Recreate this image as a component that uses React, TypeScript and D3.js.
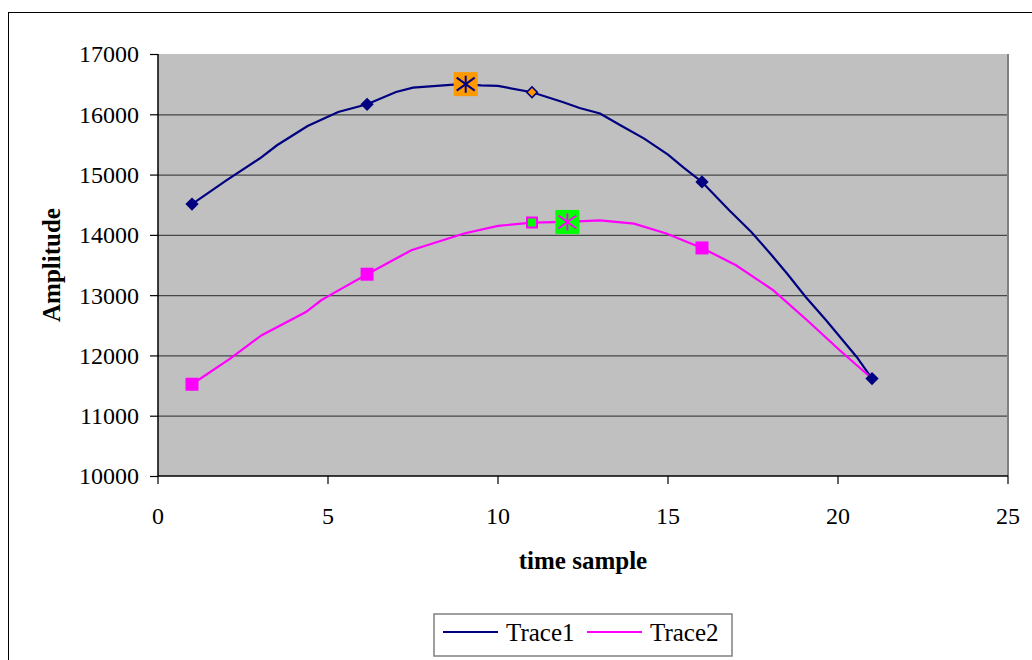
import React from 'react';
import * as d3 from 'd3';

// vertices of each trace (time sample, amplitude)
const trace1X = [1, 2, 3, 3.5, 4.4, 5.3, 6.15, 7, 7.5, 8.7, 9.05, 9.5, 10, 11, 11.9, 12.4, 13, 13.6, 14.3, 15, 15.45, 16, 16.8, 17.45, 18.05, 18.5, 19.05, 19.65, 20.55, 21];
const trace1Y = [14510, 14900, 15270, 15486, 15806, 16038, 16166, 16370, 16443, 16493, 16500, 16480, 16470, 16365, 16204, 16104, 16012, 15818, 15597, 15332, 15120, 14877, 14408, 14048, 13662, 13358, 12970, 12584, 11975, 11617];
const trace2X = [1, 2.1, 3.05, 4.35, 4.8, 5.15, 6.15, 7.45, 9, 10, 11, 12.04, 13, 14, 14.95, 16, 17, 18.1, 19.1, 20.05, 21];
const trace2Y = [11522, 11940, 12335, 12720, 12915, 13030, 13347, 13745, 14022, 14148, 14204, 14214, 14239, 14187, 14022, 13783, 13496, 13080, 12580, 12086, 11617];

const trace1MarkerX = [1, 6.15, 11, 16, 21];
const trace2MarkerX = [1, 6.15, 11, 16];
const peak1 = { x: 9.05, y: 16500 };
const peak2 = { x: 12.04, y: 14214 };
const probeX = 11;

const yTicks = [10000, 11000, 12000, 13000, 14000, 15000, 16000, 17000];
const xTicks = [0, 5, 10, 15, 20, 25];
const seriesNames = ['Trace1', 'Trace2'];

const NAVY = '#000080';
const MAGENTA = '#FF00FF';
const ORANGE = '#FF9900';
const GREEN = '#00FF00';
const FONT = '"Liberation Serif", "Times New Roman", serif';

const pick = (xs: number[], ys: number[], x: number) => ys[xs.indexOf(x)];

const App: React.FC = () => {
	const x = d3.scaleLinear().domain([0, 25]).range([158, 1008]);
	const y = d3.scaleLinear().domain([10000, 17000]).range([476, 54]);

	const line = d3
		.line<[number, number]>()
		.x((d) => x(d[0]))
		.y((d) => y(d[1]));

	const t1 = trace1X.map((v, i) => [v, trace1Y[i]] as [number, number]);
	const t2 = trace2X.map((v, i) => [v, trace2Y[i]] as [number, number]);

	const sq = (area: number) => d3.symbol(d3.symbolSquare, area)() as string;

	// six-armed asterisk
	const star = 'M0,-8.5L0,8.5M-9,-6.5L9,6.5M-9,6.5L9,-6.5';

	return (
		<div style={{ position: 'fixed', left: 0, top: 0, background: '#fff' }}>
			<svg width={1032} height={660} style={{ display: 'block' }} fontFamily={FONT}>
				<rect x={0} y={0} width={1032} height={660} fill='#fff' />
				<rect x={8.5} y={12.5} width={1040} height={700} fill='none' stroke='#000' strokeWidth={1} />

				{/* plot area */}
				<rect x={x(0)} y={y(17000)} width={x(25) - x(0)} height={y(10000) - y(17000)} fill='#C0C0C0' />
				{yTicks.slice(1, -1).map((t) => (
					<line key={t} x1={x(0)} x2={x(25)} y1={y(t) + 0.5} y2={y(t) + 0.5} stroke='#474747' strokeWidth={1.2} />
				))}
				<line x1={x(25)} x2={x(25)} y1={y(17000)} y2={y(10000)} stroke='#808080' strokeWidth={2} />

				{/* axes */}
				<line x1={x(0)} x2={x(0)} y1={y(17000)} y2={y(10000)} stroke='#000' strokeWidth={1.5} />
				<line x1={x(0)} x2={x(25)} y1={y(10000)} y2={y(10000)} stroke='#000' strokeWidth={1.5} />
				{yTicks.map((t) => (
					<g key={t}>
						<line x1={x(0) - 8} x2={x(0)} y1={y(t) + 0.5} y2={y(t) + 0.5} stroke='#000' strokeWidth={1.2} />
						<text x={139} y={y(t)} dy='0.35em' textAnchor='end' fontSize={24}>
							{t}
						</text>
					</g>
				))}
				{xTicks.map((t) => (
					<g key={t}>
						<line x1={x(t)} x2={x(t)} y1={y(10000)} y2={y(10000) + 8} stroke='#000' strokeWidth={1.2} />
						<text x={x(t)} y={524} textAnchor='middle' fontSize={24}>
							{t}
						</text>
					</g>
				))}
				<text x={(x(0) + x(25)) / 2} y={569} textAnchor='middle' fontSize={25} fontWeight='bold'>
					time sample
				</text>
				<text transform={`translate(60,${(y(10000) + y(17000)) / 2}) rotate(-90)`} textAnchor='middle' fontSize={25} fontWeight='bold'>
					Amplitude
				</text>

				{/* traces */}
				<path d={line(t1) as string} fill='none' stroke={NAVY} strokeWidth={2.2} />
				<path d={line(t2) as string} fill='none' stroke={MAGENTA} strokeWidth={2.2} />

				{trace2MarkerX.map((m) =>
					m === probeX ? (
						<path key={'s' + m} d={sq(100)} transform={`translate(${x(m)},${y(pick(trace2X, trace2Y, m))})`} fill={GREEN} stroke={MAGENTA} strokeWidth={2} />
					) : (
						<path key={'s' + m} d={sq(169)} transform={`translate(${x(m)},${y(pick(trace2X, trace2Y, m))})`} fill={MAGENTA} />
					),
				)}
				{trace1MarkerX.map((m) =>
					m === probeX ? (
						<path key={'d' + m} d={sq(56)} transform={`translate(${x(m)},${y(pick(trace1X, trace1Y, m))}) rotate(45)`} fill={ORANGE} stroke={NAVY} strokeWidth={1.6} />
					) : (
						<path key={'d' + m} d={sq(88)} transform={`translate(${x(m)},${y(pick(trace1X, trace1Y, m))}) rotate(45)`} fill={NAVY} />
					),
				)}

				{/* highlighted peaks */}
				<g transform={`translate(${x(peak1.x)},${y(peak1.y)})`}>
					<path d={sq(576)} fill={ORANGE} />
					<path d={star} stroke={NAVY} strokeWidth={2} fill='none' />
				</g>
				<g transform={`translate(${x(peak2.x)},${y(peak2.y)})`}>
					<path d={sq(576)} fill={GREEN} />
					<path d={star} stroke={MAGENTA} strokeWidth={2} fill='none' />
				</g>

				{/* legend */}
				<rect x={434} y={614} width={298} height={42} fill='#fff' stroke='#808080' strokeWidth={1.5} />
				{seriesNames.map((s, i) => (
					<g key={s} transform={`translate(${443 + i * 144},632)`}>
						<line x1={0} x2={55} y1={0} y2={0} stroke={i === 0 ? NAVY : MAGENTA} strokeWidth={2.2} />
						<text x={63} y={0} dy='0.35em' fontSize={25}>
							{s}
						</text>
					</g>
				))}
			</svg>
		</div>
	);
};

export default App;
